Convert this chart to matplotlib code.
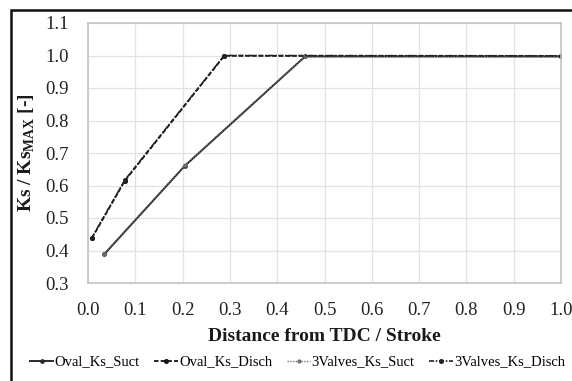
import matplotlib
matplotlib.use("Agg")
import matplotlib.pyplot as plt
from matplotlib.patches import Rectangle

# Series data: distance from TDC / stroke vs normalised Ks
oval_suct_x = [0.034, 0.205, 0.459, 1.0]
oval_suct_y = [0.388, 0.661, 0.997, 0.997]

oval_disch_x = [0.008, 0.078, 0.288, 1.0]
oval_disch_y = [0.4375, 0.615, 0.999, 0.998]

valves_suct_x = [0.034, 0.205, 0.459, 1.0]
valves_suct_y = [0.390, 0.663, 0.998, 0.997]

valves_disch_x = [0.008, 0.078, 0.288, 1.0]
valves_disch_y = [0.439, 0.617, 1.0, 0.999]

x_ticks = [0.0, 0.1, 0.2, 0.3, 0.4, 0.5, 0.6, 0.7, 0.8, 0.9, 1.0]
y_ticks = [0.3, 0.4, 0.5, 0.6, 0.7, 0.8, 0.9, 1.0, 1.1]

plt.rcParams['font.family'] = ['Liberation Serif', 'DejaVu Serif']
plt.rcParams['mathtext.fontset'] = 'custom'
plt.rcParams['mathtext.rm'] = 'Liberation Serif'
plt.rcParams['mathtext.bf'] = 'Liberation Serif:bold'

fig = plt.figure(figsize=(5.72, 3.81), dpi=100)
ax = fig.add_axes([88 / 572, 1 - 283 / 381, (561 - 88) / 572, (283 - 23) / 381])

ax.plot(oval_suct_x, oval_suct_y, color='#2a2a2a', lw=1.4, ls='-',
        marker='o', ms=2.4, label='Oval_Ks_Suct')
ax.plot(oval_disch_x, oval_disch_y, color='#111111', lw=1.3, ls=(0, (2.5, 1.2)),
        marker='o', ms=2.6, label='Oval_Ks_Disch')
ax.plot(valves_suct_x, valves_suct_y, color='#6e6e6e', lw=1.0, ls=(0, (1, 1)),
        marker='o', ms=2.0, label='3Valves_Ks_Suct')
ax.plot(valves_disch_x, valves_disch_y, color='#222222', lw=1.2, ls=(0, (3, 1, 1, 1)),
        marker='o', ms=2.6, label='3Valves_Ks_Disch')

ax.set_xlim(0.0, 1.0)
ax.set_ylim(0.3, 1.1)
ax.set_xticks(x_ticks)
ax.set_yticks(y_ticks)
ax.set_xticklabels([f'{v:.1f}' for v in x_ticks])
ax.set_yticklabels([f'{v:.1f}' for v in y_ticks])
ax.tick_params(axis='both', length=0, labelsize=13.5, colors='#222222')
ax.tick_params(axis='x', pad=13.5)
ax.tick_params(axis='y', pad=14)

ax.grid(True, color='#e2e2e2', lw=0.9)
ax.set_axisbelow(True)
for s in ax.spines.values():
    s.set_color('#c4c4c4')
    s.set_linewidth(1.2)

ax.set_xlabel('Distance from TDC / Stroke', fontsize=14, fontweight='bold',
              labelpad=7, color='#1a1a1a')
ax.set_ylabel(r'Ks / Ks$_{\mathbf{MAX}}$ [-]', fontsize=14, fontweight='bold',
              labelpad=6, color='#1a1a1a')

fig.legend(loc='center', bbox_to_anchor=(0.52, 1 - 362 / 381), ncol=4,
           frameon=False, fontsize=10.5, handlelength=1.6, handletextpad=0.1,
           columnspacing=1.0)

# outer frame around the chart (bottom and right edges run past the canvas)
fig.patches.append(Rectangle((11 / 572, -0.1), 1.2, 1.1 - 10 / 381,
                             transform=fig.transFigure, fill=False,
                             edgecolor='#111111', lw=1.8))

fig.savefig('out.png', dpi=100)
